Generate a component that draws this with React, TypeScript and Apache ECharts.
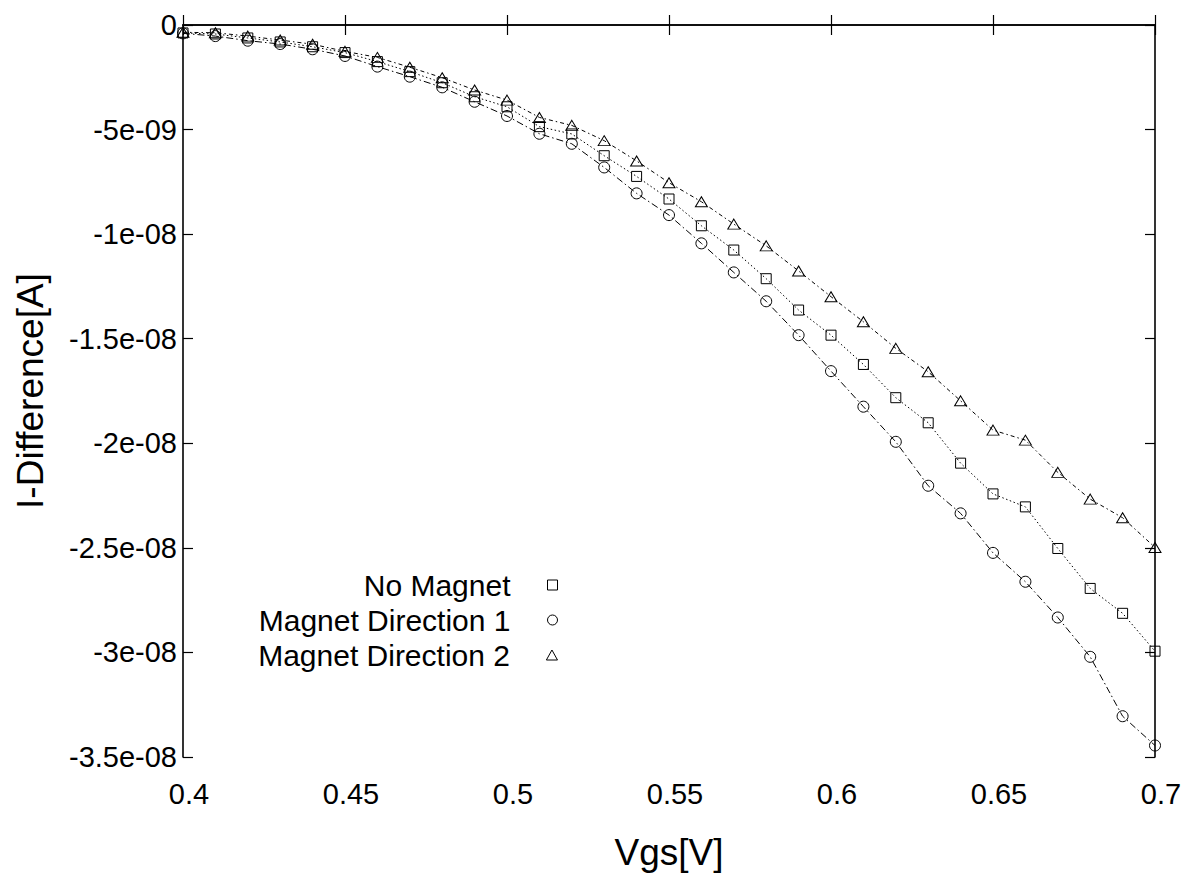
import React, { useEffect, useRef } from 'react';
import * as echarts from 'echarts';

// Gate voltage sweep [V]
const vgs = [
  0.40, 0.41, 0.42, 0.43, 0.44, 0.45, 0.46, 0.47, 0.48, 0.49, 0.50,
  0.51, 0.52, 0.53, 0.54, 0.55, 0.56, 0.57, 0.58, 0.59, 0.60,
  0.61, 0.62, 0.63, 0.64, 0.65, 0.66, 0.67, 0.68, 0.69, 0.70,
];

// Current difference, in nA (converted to A below)
const noMagnetNA = [
  -0.38, -0.43, -0.62, -0.81, -1.04, -1.32, -1.75, -2.23, -2.76, -3.43, -3.91,
  -4.86, -5.21, -6.25, -7.24, -8.32, -9.60, -10.76, -12.13, -13.63, -14.83,
  -16.23, -17.82, -19.02, -20.95, -22.42, -23.04, -25.03, -26.94, -28.13, -29.94,
];
const direction1NA = [
  -0.40, -0.53, -0.75, -0.91, -1.16, -1.48, -1.99, -2.47, -2.98, -3.67, -4.35,
  -5.20, -5.68, -6.81, -8.05, -9.09, -10.44, -11.83, -13.21, -14.83, -16.55,
  -18.25, -19.93, -22.03, -23.35, -25.24, -26.62, -28.33, -30.21, -33.05, -34.45,
];
const direction2NA = [
  -0.35, -0.37, -0.53, -0.72, -0.92, -1.26, -1.55, -2.02, -2.52, -3.11, -3.59,
  -4.42, -4.80, -5.53, -6.50, -7.54, -8.45, -9.52, -10.56, -11.76, -12.99,
  -14.19, -15.46, -16.58, -17.97, -19.37, -19.85, -21.39, -22.67, -23.56, -24.98,
];

const seriesNames = ['No Magnet', 'Magnet Direction 1', 'Magnet Direction 2'];

const FONT = "'Liberation Sans', Arial, Helvetica, sans-serif";

function sciLabel(v: number): string {
  if (Math.abs(v) < 1e-15) return '0';
  const exp = Math.floor(Math.log10(Math.abs(v)) + 1e-9);
  const mant = v / Math.pow(10, exp);
  const m = parseFloat(mant.toFixed(2)).toString();
  const e = exp < 0 ? '-' + String(-exp).padStart(2, '0') : '+' + String(exp).padStart(2, '0');
  return m + 'e' + e;
}

const toPairs = (vals: number[]) => vgs.map((x, i) => [x, vals[i] * 1e-9]);

export default function App() {
  const ref = useRef<HTMLDivElement>(null);

  useEffect(() => {
    document.body.style.margin = '0';
    if (!ref.current) return;
    const chart = echarts.init(ref.current, null, { renderer: 'svg' });

    const axisLine = { show: true, lineStyle: { color: '#000', width: 1.6 } };
    const axisTick = { show: true, inside: true, length: 10, lineStyle: { color: '#000', width: 1.2 } };

    const hollow = { color: 'rgba(0,0,0,0)', borderColor: '#000', borderWidth: 1 };

    const legendIcons = [
      'path://M0,0H10V10H0Z',
      'path://M10,5A5,5,0,1,1,0,5A5,5,0,1,1,10,5Z',
      'path://M5,0L10,9L0,9Z',
    ];
    const legendTops = [570, 605, 640];

    const legends = seriesNames.map((name, i) => ({
      show: true,
      orient: 'horizontal',
      align: 'right',
      right: 632,
      top: legendTops[i],
      padding: 0,
      itemWidth: 74,
      itemHeight: 10,
      symbolKeepAspect: true,
      selectedMode: false,
      data: [{ name, icon: legendIcons[i] }],
      itemStyle: { color: 'rgba(0,0,0,0)', borderColor: '#000', borderWidth: 1 },
      lineStyle: { opacity: 0, width: 0 },
      textStyle: { fontSize: 30, fontFamily: FONT, color: '#000' },
    }));

    const option: any = {
      animation: false,
      backgroundColor: '#fff',
      grid: { left: 183, right: 35, top: 25, bottom: 119, containLabel: false },
      legend: legends,
      xAxis: [
        {
          type: 'value',
          min: 0.4,
          max: 0.7,
          interval: 0.05,
          position: 'bottom',
          name: 'Vgs[V]',
          nameLocation: 'middle',
          nameGap: 77,
          nameTextStyle: { fontSize: 37, fontFamily: FONT, color: '#000' },
          axisLine,
          axisTick,
          splitLine: { show: false },
          axisLabel: {
            fontSize: 29,
            fontFamily: FONT,
            color: '#000',
            margin: 22,
            padding: [0, 0, 0, 12],
            formatter: (v: number) => String(parseFloat(v.toFixed(2))),
          },
        },
        {
          type: 'value',
          min: 0.4,
          max: 0.7,
          interval: 0.05,
          position: 'top',
          axisLine,
          axisTick,
          splitLine: { show: false },
          axisLabel: { show: false },
        },
      ],
      yAxis: [
        {
          type: 'value',
          min: -3.5e-8,
          max: 0,
          interval: 5e-9,
          position: 'left',
          name: 'I-Difference[A]',
          nameLocation: 'middle',
          nameRotate: 90,
          nameGap: 134,
          nameTextStyle: { fontSize: 37, fontFamily: FONT, color: '#000' },
          axisLine,
          axisTick,
          splitLine: { show: false },
          axisLabel: {
            fontSize: 29,
            fontFamily: FONT,
            color: '#000',
            margin: 6,
            formatter: (v: number) => sciLabel(v),
          },
        },
        {
          type: 'value',
          min: -3.5e-8,
          max: 0,
          interval: 5e-9,
          position: 'right',
          axisLine,
          axisTick,
          splitLine: { show: false },
          axisLabel: { show: false },
        },
      ],
      series: [
        {
          name: seriesNames[0],
          type: 'line',
          xAxisIndex: 0,
          yAxisIndex: 0,
          data: toPairs(noMagnetNA),
          symbol: 'rect',
          symbolSize: 10,
          clip: false,
          itemStyle: hollow,
          lineStyle: { color: '#000', width: 1, type: [1.5, 2.5] },
        },
        {
          name: seriesNames[1],
          type: 'line',
          xAxisIndex: 0,
          yAxisIndex: 0,
          data: toPairs(direction1NA),
          symbol: 'circle',
          symbolSize: 11,
          clip: false,
          itemStyle: hollow,
          lineStyle: { color: '#000', width: 1, type: [7, 3, 1.5, 3] },
        },
        {
          name: seriesNames[2],
          type: 'line',
          xAxisIndex: 0,
          yAxisIndex: 0,
          data: toPairs(direction2NA),
          symbol: 'triangle',
          symbolSize: [12, 10],
          clip: false,
          itemStyle: hollow,
          lineStyle: { color: '#000', width: 1, type: [4, 3, 1.5, 3] },
        },
      ],
    };

    chart.setOption(option);
    return () => chart.dispose();
  }, []);

  return <div ref={ref} style={{ width: 1190, height: 876 }} />;
}
